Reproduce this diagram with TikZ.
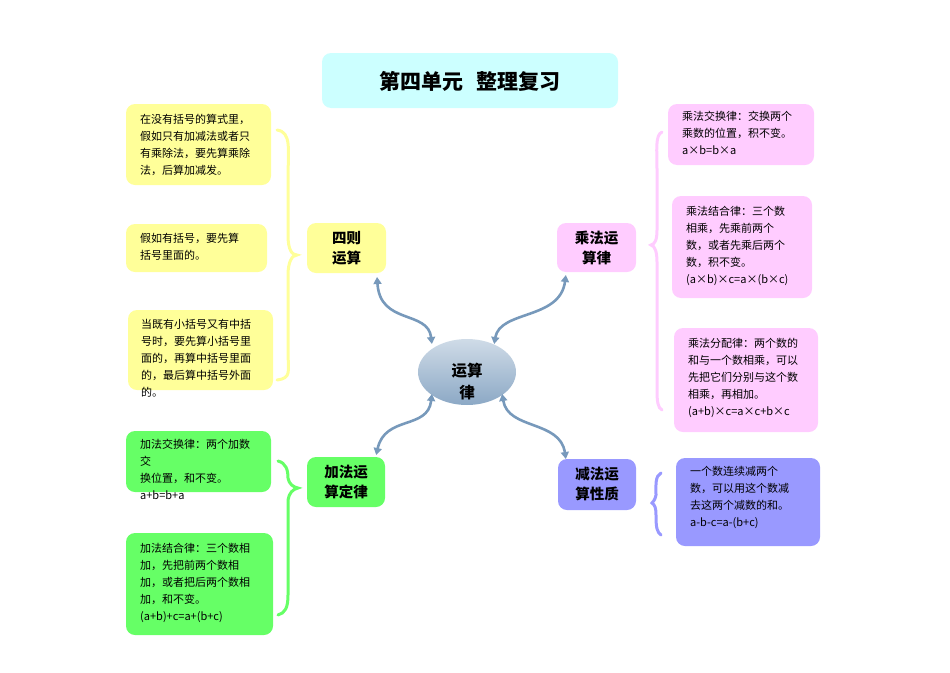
\documentclass[tikz,border=0pt]{standalone}
\usepackage{fontspec}
\setmainfont{Noto Sans CJK SC}
\usetikzlibrary{arrows.meta,decorations.pathreplacing}
\definecolor{ylw}{HTML}{FFFF99}
\definecolor{pnk}{HTML}{FFCCFF}
\definecolor{grn}{HTML}{66FF66}
\definecolor{vio}{HTML}{9999FF}
\definecolor{cyn}{HTML}{CCFFFF}
\definecolor{arr}{HTML}{7799BB}
\begin{document}
\begin{tikzpicture}[x=1pt,y=-1pt,
  box/.style={rounded corners=9pt},
  txt/.style={anchor=north west,align=left,font=\fontsize{11}{17}\selectfont,inner sep=0pt},
  head/.style={align=center,font=\fontsize{14.5}{20}\selectfont\bfseries,inner sep=0pt},
  link/.style={arr,line width=2.6pt,{Triangle[length=7pt,width=8pt]}-{Triangle[length=7pt,width=8pt]},shorten <=1pt,shorten >=1pt},
  brc/.style={line width=3pt,line cap=round}]
\useasboundingbox (0,0) rectangle (950,672);
% title
\fill[cyn,box] (322,53) rectangle (618,108);
\node[font=\fontsize{21}{24}\selectfont\bfseries] (title) at (470,81) {第四单元\hspace{0.6em}整理复习};
% left yellow
\fill[ylw,box] (126,104) rectangle (271,185);
\node[txt] (y1) at (140,114) {在没有括号的算式里，\\假如只有加减法或者只\\有乘除法，要先算乘除\\法，后算加减发。};
\fill[ylw,box] (126,224) rectangle (267,272);
\node[txt] (y2) at (140,233) {假如有括号，要先算\\括号里面的。};
\fill[ylw,box] (128,310) rectangle (273,390);
\node[txt] (y3) at (141,319) {当既有小括号又有中括\\号时，要先算小括号里\\面的，再算中括号里面\\的，最后算中括号外面\\的。};
\draw[ylw,brc] (277,130) .. controls (292,132) and (288,150) .. (288,180) -- (288,235) .. controls (288,250) and (292,255) .. (297,255) .. controls (292,255) and (288,262) .. (288,275) -- (288,350) .. controls (288,372) and (292,378) .. (277,380);
\fill[ylw,box] (307,223) rectangle (386,273);
\node[head] (sz) at (346.5,248) {四则\\运算};
% center
\shade[top color=arr!35,bottom color=arr!85] (467,372) ellipse (49 and 33);
\node[head,font=\fontsize{15.5}{22}\selectfont\bfseries] (c) at (467,382) {运算\\律};
\coordinate (c1) at (432,345);
\coordinate (c2) at (494,345);
\coordinate (c3) at (432,393);
\coordinate (c4) at (502,393);
% right pink
\fill[pnk,box] (557,223) rectangle (636,272);
\node[head] (cf) at (596.5,247.5) {乘法运\\算律};
\fill[pnk,box] (668,104) rectangle (814,165);
\node[txt] (p1) at (682,111) {乘法交换律：交换两个\\乘数的位置，积不变。\\a×b=b×a};
\fill[pnk,box] (672,196) rectangle (812,298);
\node[txt] (p2) at (686,206) {乘法结合律：三个数\\相乘，先乘前两个\\数，或者先乘后两个\\数，积不变。\\(a×b)×c=a×(b×c)};
\fill[pnk,box] (674,328) rectangle (818,432);
\node[txt] (p3) at (688,338) {乘法分配律：两个数的\\和与一个数相乘，可以\\先把它们分别与这个数\\相乘，再相加。\\(a+b)×c=a×c+b×c};
\draw[pnk,brc] (662,132) .. controls (655,135) and (657,150) .. (657,170) -- (657,230) .. controls (657,240) and (655,244) .. (651,245) .. controls (655,246) and (657,252) .. (657,262) -- (657,390) .. controls (657,402) and (658,408) .. (662,410);
% violet
\fill[vio,box] (558,459) rectangle (636,510);
\node[head] (jf) at (597,484.5) {减法运\\算性质};
\fill[vio,box] (676,458) rectangle (820,546);
\node[txt] (v1) at (690,466) {一个数连续减两个\\数，可以用这个数减\\去这两个减数的和。\\a-b-c=a-(b+c)};
\draw[vio,brc] (661,473) .. controls (655,476) and (656,485) .. (656,495) .. controls (655,500) and (653,502) .. (652,503) .. controls (655,505) and (656,508) .. (656,515) .. controls (656,528) and (657,532) .. (661,535);
% green
\fill[grn,box] (307,457) rectangle (385,507);
\node[head] (jfd) at (346,482) {加法运\\算定律};
\fill[grn,box] (126,431) rectangle (271,492);
\node[txt] (g1) at (140,439) {加法交换律：两个加数\\交\\换位置，和不变。\\a+b=b+a};
\fill[grn,box] (126,533) rectangle (273,635);
\node[txt] (g2) at (140,543) {加法结合律：三个数相\\加，先把前两个数相\\加，或者把后两个数相\\加，和不变。\\(a+b)+c=a+(b+c)};
\draw[grn,brc] (278,461) .. controls (286,463) and (288,470) .. (288,478) .. controls (289,484) and (293,487) .. (298,488) .. controls (293,489) and (289,493) .. (288,500) -- (288,595) .. controls (288,608) and (285,613) .. (278,615);
% links
\draw[link] (c1) .. controls (428,310) and (380,325) .. (377,276);
\draw[link] (c2) .. controls (500,310) and (560,320) .. (566,274);
\draw[link] (c3) .. controls (428,430) and (385,415) .. (376,456);
\draw[link] (c4) .. controls (508,430) and (560,420) .. (566,460);
\end{tikzpicture}
\end{document}
